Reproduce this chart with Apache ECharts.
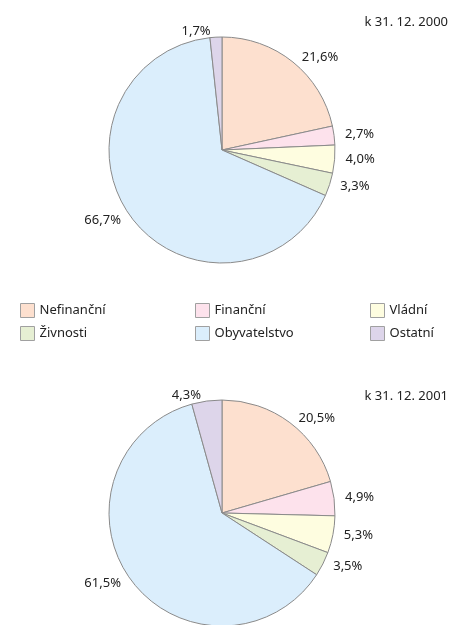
<!DOCTYPE html>
<html>
<head>
<meta charset="utf-8">
<script src="https://cdn.jsdelivr.net/npm/echarts@6/dist/echarts.min.js"></script>
<style>
  html, body { margin: 0; padding: 0; background: #fff; }
  #chart { width: 451px; height: 625px; }
</style>
</head>
<body>
<div id="chart"></div>
<script>
  // kategorie a hodnoty (%)
  var categories = ['Nefinanční', 'Finanční', 'Vládní', 'Živnosti', 'Obyvatelstvo', 'Ostatní'];
  var values2000 = [21.6, 2.7, 4.0, 3.3, 66.7, 1.7];
  var values2001 = [20.5, 4.9, 5.3, 3.5, 61.5, 4.3];
  var titles = ['k 31. 12. 2000', 'k 31. 12. 2001'];
  var colors = ['#fde0cf', '#fde2ec', '#fefde0', '#e6efd3', '#dbeefc', '#ddd5ea'];

  var font = 'Noto Sans';

  function toData(values) {
    return categories.map(function (name, i) {
      return { name: name, value: values[i] };
    });
  }

  function pieSeries(values, center) {
    return {
      type: 'pie',
      center: center,
      radius: 113,
      startAngle: 90,
      clockwise: true,
      avoidLabelOverlap: false,
      emphasis: { disabled: true },
      itemStyle: { borderColor: '#8a8a8a', borderWidth: 1 },
      label: {
        show: true,
        position: 'outside',
        distanceToLabelLine: 5,
        fontFamily: font,
        fontSize: 13,
        color: '#222',
        formatter: function (p) {
          return p.value.toFixed(1).replace('.', ',') + '%';
        }
      },
      labelLine: { show: false, length: 6, length2: 0 },
      data: toData(values)
    };
  }

  // legenda ve třech sloupcích po dvou položkách
  function legendCol(names, left) {
    return {
      left: left,
      top: 298,
      orient: 'vertical',
      icon: 'rect',
      itemWidth: 14,
      itemHeight: 14,
      itemGap: 8,
      selectedMode: false,
      itemStyle: { borderColor: '#a0a0a0', borderWidth: 1 },
      textStyle: { fontFamily: font, fontSize: 13, color: '#222' },
      data: names
    };
  }

  var option = {
    animation: false,
    color: colors,
    title: [
      { text: titles[0], right: 3, top: 16, padding: 0,
        textStyle: { fontFamily: font, fontSize: 13, fontWeight: 'normal', color: '#222' } },
      { text: titles[1], right: 3, top: 390, padding: 0,
        textStyle: { fontFamily: font, fontSize: 13, fontWeight: 'normal', color: '#222' } }
    ],
    legend: [
      legendCol([categories[0], categories[3]], 15),
      legendCol([categories[1], categories[4]], 190),
      legendCol([categories[2], categories[5]], 365)
    ],
    series: [
      pieSeries(values2000, [222, 150]),
      pieSeries(values2001, [222, 513])
    ]
  };

  var chart = echarts.init(document.getElementById('chart'));
  chart.setOption(option);
</script>
</body>
</html>
